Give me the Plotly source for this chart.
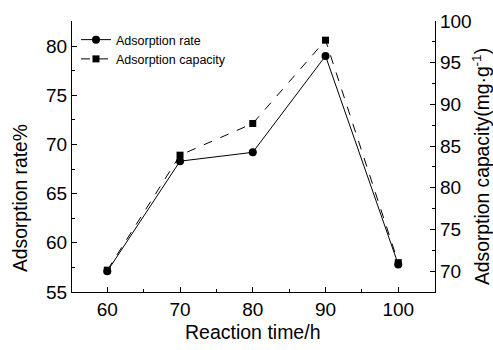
import plotly.graph_objects as go

time_h = [60, 70, 80, 90, 100]
rate_pct = [57.1, 68.3, 69.2, 79.0, 57.8]
capacity = [70.1, 83.9, 87.7, 97.7, 71.0]

W, H = 493, 350
L, R, T, B = 72, 58, 21, 58
pw, ph = W - L - R, H - T - B

def px2paper(x, y):
    return (x - L) / pw, (H - B - y) / ph

FONT = "Liberation Sans, Arial, sans-serif"

fig = go.Figure()
fig.add_trace(go.Scatter(
    x=time_h, y=rate_pct, name="Adsorption rate", mode="lines+markers",
    line=dict(color="black", width=1), marker=dict(symbol="circle", size=8, color="black"),
    yaxis="y"))
fig.add_trace(go.Scatter(
    x=time_h, y=capacity, name="Adsorption capacity", mode="lines+markers",
    line=dict(color="black", width=1, dash="dash"), marker=dict(symbol="square", size=7, color="black"),
    yaxis="y2"))

axis_common = dict(showline=True, linecolor="black", linewidth=1.3, showgrid=False, zeroline=False,
                   ticks="inside", ticklen=5, tickwidth=1.3, tickcolor="black",
                   tickfont=dict(family=FONT, size=19, color="black"))

fig.update_layout(
    width=W, height=H, margin=dict(l=L, r=R, t=T, b=B),
    paper_bgcolor="white", plot_bgcolor="white",
    font=dict(family=FONT, color="black"),
    xaxis=dict(range=[55.15, 105.05], tickvals=[60, 70, 80, 90, 100],
               minor=dict(ticks="inside", ticklen=3, tickwidth=1.3, tickcolor="black", dtick=5, tick0=55),
               **axis_common),
    yaxis=dict(range=[55, 82.55], tickvals=[55, 60, 65, 70, 75, 80],
               minor=dict(ticks="inside", ticklen=3, tickwidth=1.3, tickcolor="black", dtick=2.5, tick0=55),
               **axis_common),
    yaxis2=dict(range=[67.48, 100], tickvals=[70, 75, 80, 85, 90, 95, 100], overlaying="y", side="right",
                minor=dict(ticks="inside", ticklen=3, tickwidth=1.3, tickcolor="black", dtick=2.5, tick0=67.5),
                **axis_common),
    showlegend=True,
    legend=dict(x=(76 - L) / pw, y=(H - B - 25) / ph, xanchor="left", yanchor="top",
                bgcolor="rgba(0,0,0,0)", font=dict(family=FONT, size=12.5, color="black"),
                itemwidth=30, tracegroupgap=0),
)

ann = []
x, y = px2paper(20, 198)
ann.append(dict(text="Adsorption rate%", x=x, y=y, xref="paper", yref="paper", textangle=-90,
                showarrow=False, xanchor="center", yanchor="middle", font=dict(size=19.3)))
x, y = px2paper(481, 167)
ann.append(dict(text="Adsorption capacity(mg·g<sup>-1</sup>)", x=x, y=y, xref="paper", yref="paper",
                textangle=-90, showarrow=False, xanchor="center", yanchor="middle", font=dict(size=19.3)))
x, y = px2paper(252.5, 332)
ann.append(dict(text="Reaction time/h", x=x, y=y, xref="paper", yref="paper",
                showarrow=False, xanchor="center", yanchor="middle", font=dict(size=19.5)))
fig.update_layout(annotations=ann)

fig.write_html("out.html")
